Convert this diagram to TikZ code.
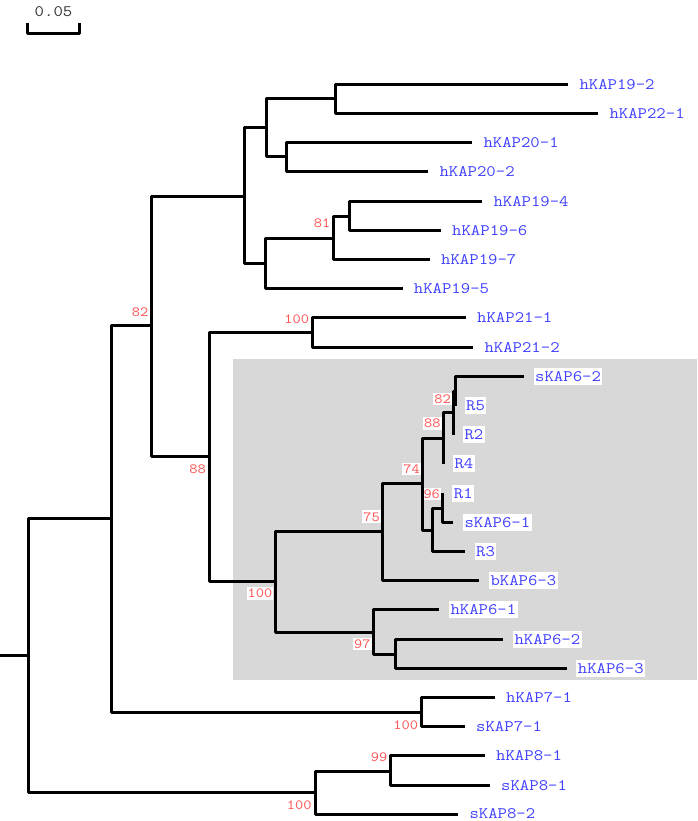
\documentclass[tikz,border=0pt]{standalone}
\usepackage{fontspec}
\newfontfamily\treefont[FakeStretch=1.14]{Latin Modern Mono}
\definecolor{leafblue}{RGB}{64,64,255}
\definecolor{bootred}{RGB}{255,80,80}
\definecolor{boxgray}{RGB}{216,216,216}
\definecolor{scalegray}{RGB}{51,51,51}
\begin{document}
\begin{tikzpicture}[x=1pt,y=-1pt,
  branch/.style={line width=3pt, line join=round},
  leaf/.style={anchor=west, font=\treefont\fontsize{16}{16}\selectfont, text=leafblue, fill=white, inner xsep=1.5pt, inner ysep=3.5pt, text height=10pt, text depth=0pt, xshift=9.5pt},
  boot/.style={font=\treefont\fontsize{14}{14}\selectfont, text=bootred, fill=white, inner xsep=1pt, inner ysep=2pt, text height=8.8pt, text depth=0pt},
]
\useasboundingbox (0,0) rectangle (697,821);
\fill[boxgray] (233.3,359.3) rectangle (697,680);

% scale bar
\coordinate (sb1) at (27.7,23);
\coordinate (sb2) at (27.7,34);
\coordinate (sb3) at (79.3,34);
\coordinate (sb4) at (79.3,23);
\node[font=\treefont\fontsize{16}{16}\selectfont, text=scalegray, inner sep=0pt] (sbt) at (53.5,11.5) {0.05};

% internal nodes
\coordinate (start) at (0,655.7);
\coordinate (root) at (28,655.7);
\coordinate (A) at (111,518.3);
\coordinate (B) at (151,325.7);
\coordinate (C) at (244.3,196);
\coordinate (E) at (266.7,127.7);
\coordinate (G) at (335.7,99);
\coordinate (H) at (286.7,157);
\coordinate (F) at (265.7,263.3);
\coordinate (I) at (333.3,238);
\coordinate (J) at (349,216);
\coordinate (D) at (209,456.7);
\coordinate (K21) at (312.3,332.7);
\coordinate (L) at (275,581);
\coordinate (M) at (382.7,531.7);
\coordinate (P) at (422.7,483.3);
\coordinate (Q) at (443.3,438.3);
\coordinate (R82) at (453.3,412.3);
\coordinate (T) at (455,391);
\coordinate (S) at (432,530);
\coordinate (U) at (442.7,508.3);
\coordinate (N) at (373.3,632.3);
\coordinate (V) at (395.7,654);
\coordinate (K7) at (421,712.7);
\coordinate (K8) at (315.7,792.3);
\coordinate (W) at (390,771);

% leaf ends
\coordinate (e0) at (568.3,84.3);
\coordinate (e1) at (598.3,113.5);
\coordinate (e2) at (472.3,142.7);
\coordinate (e3) at (428.3,171.9);
\coordinate (e4) at (482.3,201.1);
\coordinate (e5) at (441,230.3);
\coordinate (e6) at (430,259.5);
\coordinate (e7) at (402.7,288.7);
\coordinate (e8) at (466,317.9);
\coordinate (e9) at (473.3,347.1);
\coordinate (e10) at (524,376.3);
\coordinate (e11) at (455,405.5);
\coordinate (e12) at (453.3,434.7);
\coordinate (e13) at (443.3,463.9);
\coordinate (e14) at (442.7,493.1);
\coordinate (e15) at (453.3,522.3);
\coordinate (e16) at (465,551.5);
\coordinate (e17) at (479.3,580.7);
\coordinate (e18) at (439.3,609.9);
\coordinate (e19) at (503.3,639.1);
\coordinate (e20) at (566.7,668.3);
\coordinate (e21) at (495,697.5);
\coordinate (e22) at (465,726.7);
\coordinate (e23) at (485,755.9);
\coordinate (e24) at (490,785.1);
\coordinate (e25) at (458.3,814.3);

% leaf labels
\node[leaf] (l0) at (e0) {hKAP19-2};
\node[leaf] (l1) at (e1) {hKAP22-1};
\node[leaf] (l2) at (e2) {hKAP20-1};
\node[leaf] (l3) at (e3) {hKAP20-2};
\node[leaf] (l4) at (e4) {hKAP19-4};
\node[leaf] (l5) at (e5) {hKAP19-6};
\node[leaf] (l6) at (e6) {hKAP19-7};
\node[leaf] (l7) at (e7) {hKAP19-5};
\node[leaf] (l8) at (e8) {hKAP21-1};
\node[leaf] (l9) at (e9) {hKAP21-2};
\node[leaf] (l10) at (e10) {sKAP6-2};
\node[leaf] (l11) at (e11) {R5};
\node[leaf] (l12) at (e12) {R2};
\node[leaf] (l13) at (e13) {R4};
\node[leaf] (l14) at (e14) {R1};
\node[leaf] (l15) at (e15) {sKAP6-1};
\node[leaf] (l16) at (e16) {R3};
\node[leaf] (l17) at (e17) {bKAP6-3};
\node[leaf] (l18) at (e18) {hKAP6-1};
\node[leaf] (l19) at (e19) {hKAP6-2};
\node[leaf] (l20) at (e20) {hKAP6-3};
\node[leaf] (l21) at (e21) {hKAP7-1};
\node[leaf] (l22) at (e22) {sKAP7-1};
\node[leaf] (l23) at (e23) {hKAP8-1};
\node[leaf] (l24) at (e24) {sKAP8-1};
\node[leaf, inner ysep=0.5pt, yshift=0.8pt] (l25) at (e25) {sKAP8-2};

% bootstrap labels
\node[boot] (bB) at (140,311.7) {82};
\node[boot] (bJ) at (322,223) {81};
\node[boot] (bK21) at (296.7,319) {100};
\node[boot] (bD) at (197.7,469) {88};
\node[boot] (bL) at (260,593.3) {100};
\node[boot] (bM) at (371.7,516.7) {75};
\node[boot] (bP) at (411.7,469) {74};
\node[boot] (bU) at (431.7,494) {96};
\node[boot] (bQ) at (432.3,423.3) {88};
\node[boot] (bR) at (442.5,399) {82};
\node[boot] (bN) at (362.3,644) {97};
\node[boot] (bK7) at (405.7,725) {100};
\node[boot] (bW) at (379,756.7) {99};
\node[boot] (bK8) at (299.3,805) {100};

% branches
\draw[branch] (sb1) -- (sb2) -- (sb3) -- (sb4);
\draw[branch] (start) -- (root);
\draw[branch] (root) |- (A);
\draw[branch] (root) |- (K8);
\draw[branch] (A) |- (B);
\draw[branch] (A) |- (K7);
\draw[branch] (B) |- (C);
\draw[branch] (B) |- (D);
\draw[branch] (C) |- (E);
\draw[branch] (C) |- (F);
\draw[branch] (E) |- (G);
\draw[branch] (E) |- (H);
\draw[branch] (G) |- (e0);
\draw[branch] (G) |- (e1);
\draw[branch] (H) |- (e2);
\draw[branch] (H) |- (e3);
\draw[branch] (F) |- (I);
\draw[branch] (F) |- (e7);
\draw[branch] (I) |- (J);
\draw[branch] (I) |- (e6);
\draw[branch] (J) |- (e4);
\draw[branch] (J) |- (e5);
\draw[branch] (D) |- (K21);
\draw[branch] (D) |- (L);
\draw[branch] (K21) |- (e8);
\draw[branch] (K21) |- (e9);
\draw[branch] (L) |- (M);
\draw[branch] (L) |- (N);
\draw[branch] (M) |- (P);
\draw[branch] (M) |- (e17);
\draw[branch] (P) |- (Q);
\draw[branch] (P) |- (S);
\draw[branch] (Q) |- (R82);
\draw[branch] (Q) |- (e13);
\draw[branch] (R82) |- (T);
\draw[branch] (R82) |- (e12);
\draw[branch] (T) |- (e10);
\draw[branch] (T) |- (e11);
\draw[branch] (S) |- (U);
\draw[branch] (S) |- (e16);
\draw[branch] (U) |- (e14);
\draw[branch] (U) |- (e15);
\draw[branch] (N) |- (e18);
\draw[branch] (N) |- (V);
\draw[branch] (V) |- (e19);
\draw[branch] (V) |- (e20);
\draw[branch] (K7) |- (e21);
\draw[branch] (K7) |- (e22);
\draw[branch] (K8) |- (W);
\draw[branch] (K8) |- (e25);
\draw[branch] (W) |- (e23);
\draw[branch] (W) |- (e24);
\end{tikzpicture}
\end{document}
